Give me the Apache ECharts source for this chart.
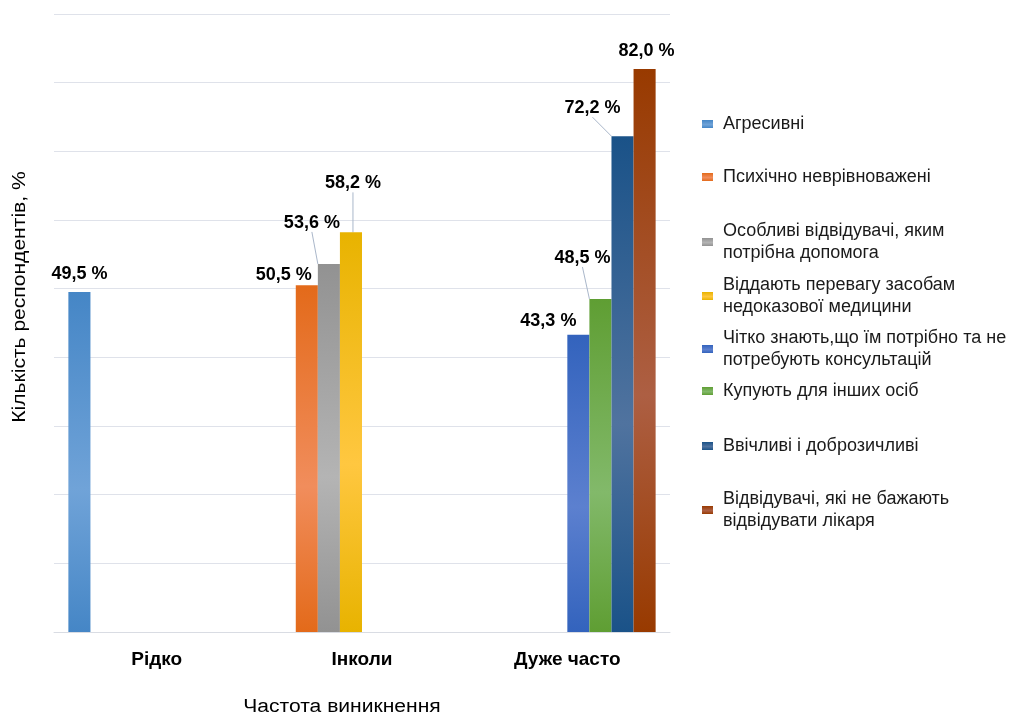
<!DOCTYPE html>
<html>
<head>
<meta charset="utf-8">
<script src="https://cdn.jsdelivr.net/npm/echarts@6/dist/echarts.min.js"></script>
<style>html,body{margin:0;padding:0;background:#fff;}#c{width:1017px;height:717px;}</style>
</head>
<body>
<div id="c"></div>
<script>
var categories = ['Рідко', 'Інколи', 'Дуже часто'];
var seriesNames = [
  'Агресивні',
  'Психічно неврівноважені',
  'Особливі відвідувачі, яким потрібна допомога',
  'Віддають перевагу засобам недоказової медицини',
  'Чітко знають,що їм потрібно та не потребують консультацій',
  'Купують для інших осіб',
  'Ввічливі і доброзичливі',
  'Відвідувачі, які не бажають відвідувати лікаря'
];
var legendLines = [
  'Агресивні',
  'Психічно неврівноважені',
  'Особливі відвідувачі, яким\nпотрібна допомога',
  'Віддають перевагу засобам\nнедоказової медицини',
  'Чітко знають,що їм потрібно та не\nпотребують консультацій',
  'Купують для інших осіб',
  'Ввічливі і доброзичливі',
  'Відвідувачі, які не бажають\nвідвідувати лікаря'
];
var aggressive = [49.5, null, null];
var unbalanced = [null, 50.5, null];
var special = [null, 53.6, null];
var alternative = [null, 58.2, null];
var knowing = [null, null, 43.3];
var forOthers = [null, null, 48.5];
var polite = [null, null, 72.2];
var avoidDoctor = [null, null, 82.0];
var seriesValues = [aggressive, unbalanced, special, alternative, knowing, forOthers, polite, avoidDoctor];
var yTicks = [0, 10, 20, 30, 40, 50, 60, 70, 80, 90];

var colors = [
  ['#4586c6', '#70a3d8'],
  ['#e36a1a', '#f18d5c'],
  ['#929292', '#b4b4b4'],
  ['#e8b300', '#ffc740'],
  ['#3363bd', '#5c80cf'],
  ['#5f9e33', '#82b96a'],
  ['#1a5288', '#50739f'],
  ['#983a00', '#ad5f43']
];
var labelShift = [[0, -4], [-23, 4], [-17, -27], [2, -35], [-30, 0], [-18, -27], [-30, -14], [2, -4]];
var hasLine = [false, false, true, true, false, true, true, false];
var legendTops = [112, 165, 219, 273, 326, 379, 434, 487];

function grad(c) {
  return {type: 'linear', x: 0, y: 0, x2: 0, y2: 1, colorStops: [
    {offset: 0, color: c[0]}, {offset: 0.58, color: c[1]}, {offset: 1, color: c[0]}]};
}

var series = seriesNames.map(function (n, i) {
  return {
    name: n,
    type: 'bar',
    data: seriesValues[i],
    barGap: '0%',
    barCategoryGap: '14%',
    itemStyle: {color: grad(colors[i])},
    label: {
      show: true, position: 'top', distance: 5,
      fontFamily: 'Liberation Sans, Arial', fontWeight: 'bold', fontSize: 18, color: '#000',
      formatter: function (p) { return p.value == null ? '' : p.value.toFixed(1).replace('.', ',') + ' %'; }
    },
    labelLayout: {dx: labelShift[i][0], dy: labelShift[i][1]},
    labelLine: {show: hasLine[i], lineStyle: {color: '#aab7ca', width: 1}}
  };
});

var legends = seriesNames.map(function (n, i) {
  return {
    data: [{name: n, icon: 'rect'}],
    left: 702, top: legendTops[i] + 1, orient: 'vertical',
    itemWidth: 11, itemHeight: 8, itemGap: 10, padding: 0,
    selectedMode: false,
    formatter: function () { return legendLines[i]; },
    textStyle: {fontFamily: 'Liberation Sans, Arial', fontSize: 18, color: '#1a1a1a', lineHeight: 22, padding: [0, 0, 0, 5]}
  };
});

var chart = echarts.init(document.getElementById('c'), null, {renderer: 'canvas'});
chart.setOption({
  animation: false,
  backgroundColor: '#fff',
  grid: {left: 54, right: 347, top: 14, bottom: 85, containLabel: false},
  xAxis: {
    type: 'category', data: categories,
    axisLine: {lineStyle: {color: '#d9dce3', width: 1}},
    axisTick: {show: false},
    axisLabel: {margin: 18, fontFamily: 'Liberation Sans, Arial', fontWeight: 'bold', fontSize: 19, color: '#000'}
  },
  yAxis: {
    type: 'value', min: yTicks[0], max: yTicks[yTicks.length - 1], interval: 10,
    axisLabel: {show: false}, axisLine: {show: false}, axisTick: {show: false},
    splitLine: {lineStyle: {color: '#dfe2ea', width: 1}}
  },
  legend: legends,
  series: series,
  graphic: [
    {type: 'text', x: 20, y: 297, rotation: Math.PI / 2, scaleX: 1.17,
     style: {text: 'Кількість респондентів, %', font: '18px "Liberation Sans", Arial', fill: '#000', align: 'center', verticalAlign: 'middle'}},
    {type: 'text', x: 342, y: 707, scaleX: 1.17,
     style: {text: 'Частота виникнення', font: '18px "Liberation Sans", Arial', fill: '#000', align: 'center', verticalAlign: 'middle'}}
  ]
});
</script>
</body>
</html>
